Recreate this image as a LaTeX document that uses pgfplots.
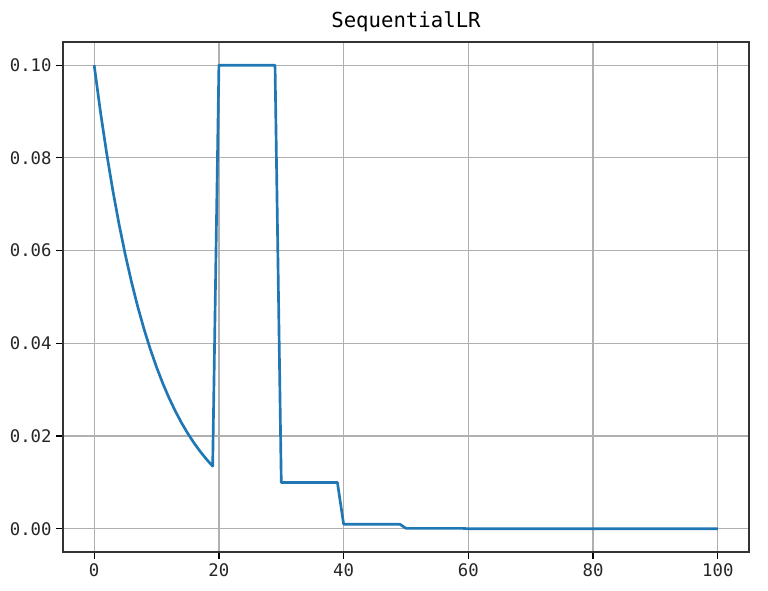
\documentclass[border=0pt]{standalone}
\usepackage{fontspec}
\setmainfont{DejaVu Sans Mono}
\usepackage{pgfplots}
\pgfplotsset{compat=1.18}
\definecolor{mplblue}{HTML}{1F77B4}
\definecolor{gridgray}{HTML}{B0B0B0}

\begin{document}
\begin{tikzpicture}
% fixed page: 768x591 px at 0.75pt/px
\useasboundingbox (-47.25pt,-29.25pt) rectangle (528.75pt,414pt);
\begin{axis}[
    at={(0,0)}, anchor=south west,
    width=514.5pt, height=382.5pt, scale only axis,
    xmin=-5, xmax=105,
    ymin=-0.005, ymax=0.105,
    xtick={0,20,40,60,80,100},
    ytick={0,0.02,0.04,0.06,0.08,0.1},
    scaled y ticks=false,
    yticklabel style={/pgf/number format/.cd,fixed,fixed zerofill,precision=2},
    /pgf/number format/assume math mode=true,
    tick label style={font=\fontsize{13}{15}\selectfont, text=black!85},
    tick align=outside,
    major tick length=5pt,
    tick style={black, line width=0.9pt},
    xtick pos=bottom, ytick pos=left,
    axis line style={black!80, line width=0.9pt},
    grid=major,
    major grid style={gridgray, line width=0.9pt},
    title={SequentialLR},
    title style={font=\fontsize{15.5}{17}\selectfont, yshift=-2pt},
]
\addplot[mplblue, line width=2pt, line join=round] coordinates {
    (0,0.1) (1,0.09) (2,0.081) (3,0.0729) (4,0.06561) (5,0.059049)
    (6,0.0531441) (7,0.0478297) (8,0.0430467) (9,0.0387420) (10,0.0348678)
    (11,0.0313811) (12,0.0282430) (13,0.0254187) (14,0.0228768) (15,0.0205891)
    (16,0.0185302) (17,0.0166772) (18,0.0150095) (19,0.0135085)
    (20,0.1) (21,0.1) (22,0.1) (23,0.1) (24,0.1) (25,0.1) (26,0.1) (27,0.1) (28,0.1) (29,0.1)
    (30,0.01) (31,0.01) (32,0.01) (33,0.01) (34,0.01) (35,0.01) (36,0.01) (37,0.01) (38,0.01) (39,0.01)
    (40,0.001) (41,0.001) (42,0.001) (43,0.001) (44,0.001) (45,0.001) (46,0.001) (47,0.001) (48,0.001) (49,0.001)
    (50,0.0001) (55,0.0001) (59,0.0001)
    (60,0.00001) (69,0.00001)
    (70,0.000001) (79,0.000001)
    (80,0.0000001) (89,0.0000001)
    (90,0.00000001) (99,0.00000001)
    (100,0.000000001)
};
\end{axis}
\end{tikzpicture}
\end{document}
